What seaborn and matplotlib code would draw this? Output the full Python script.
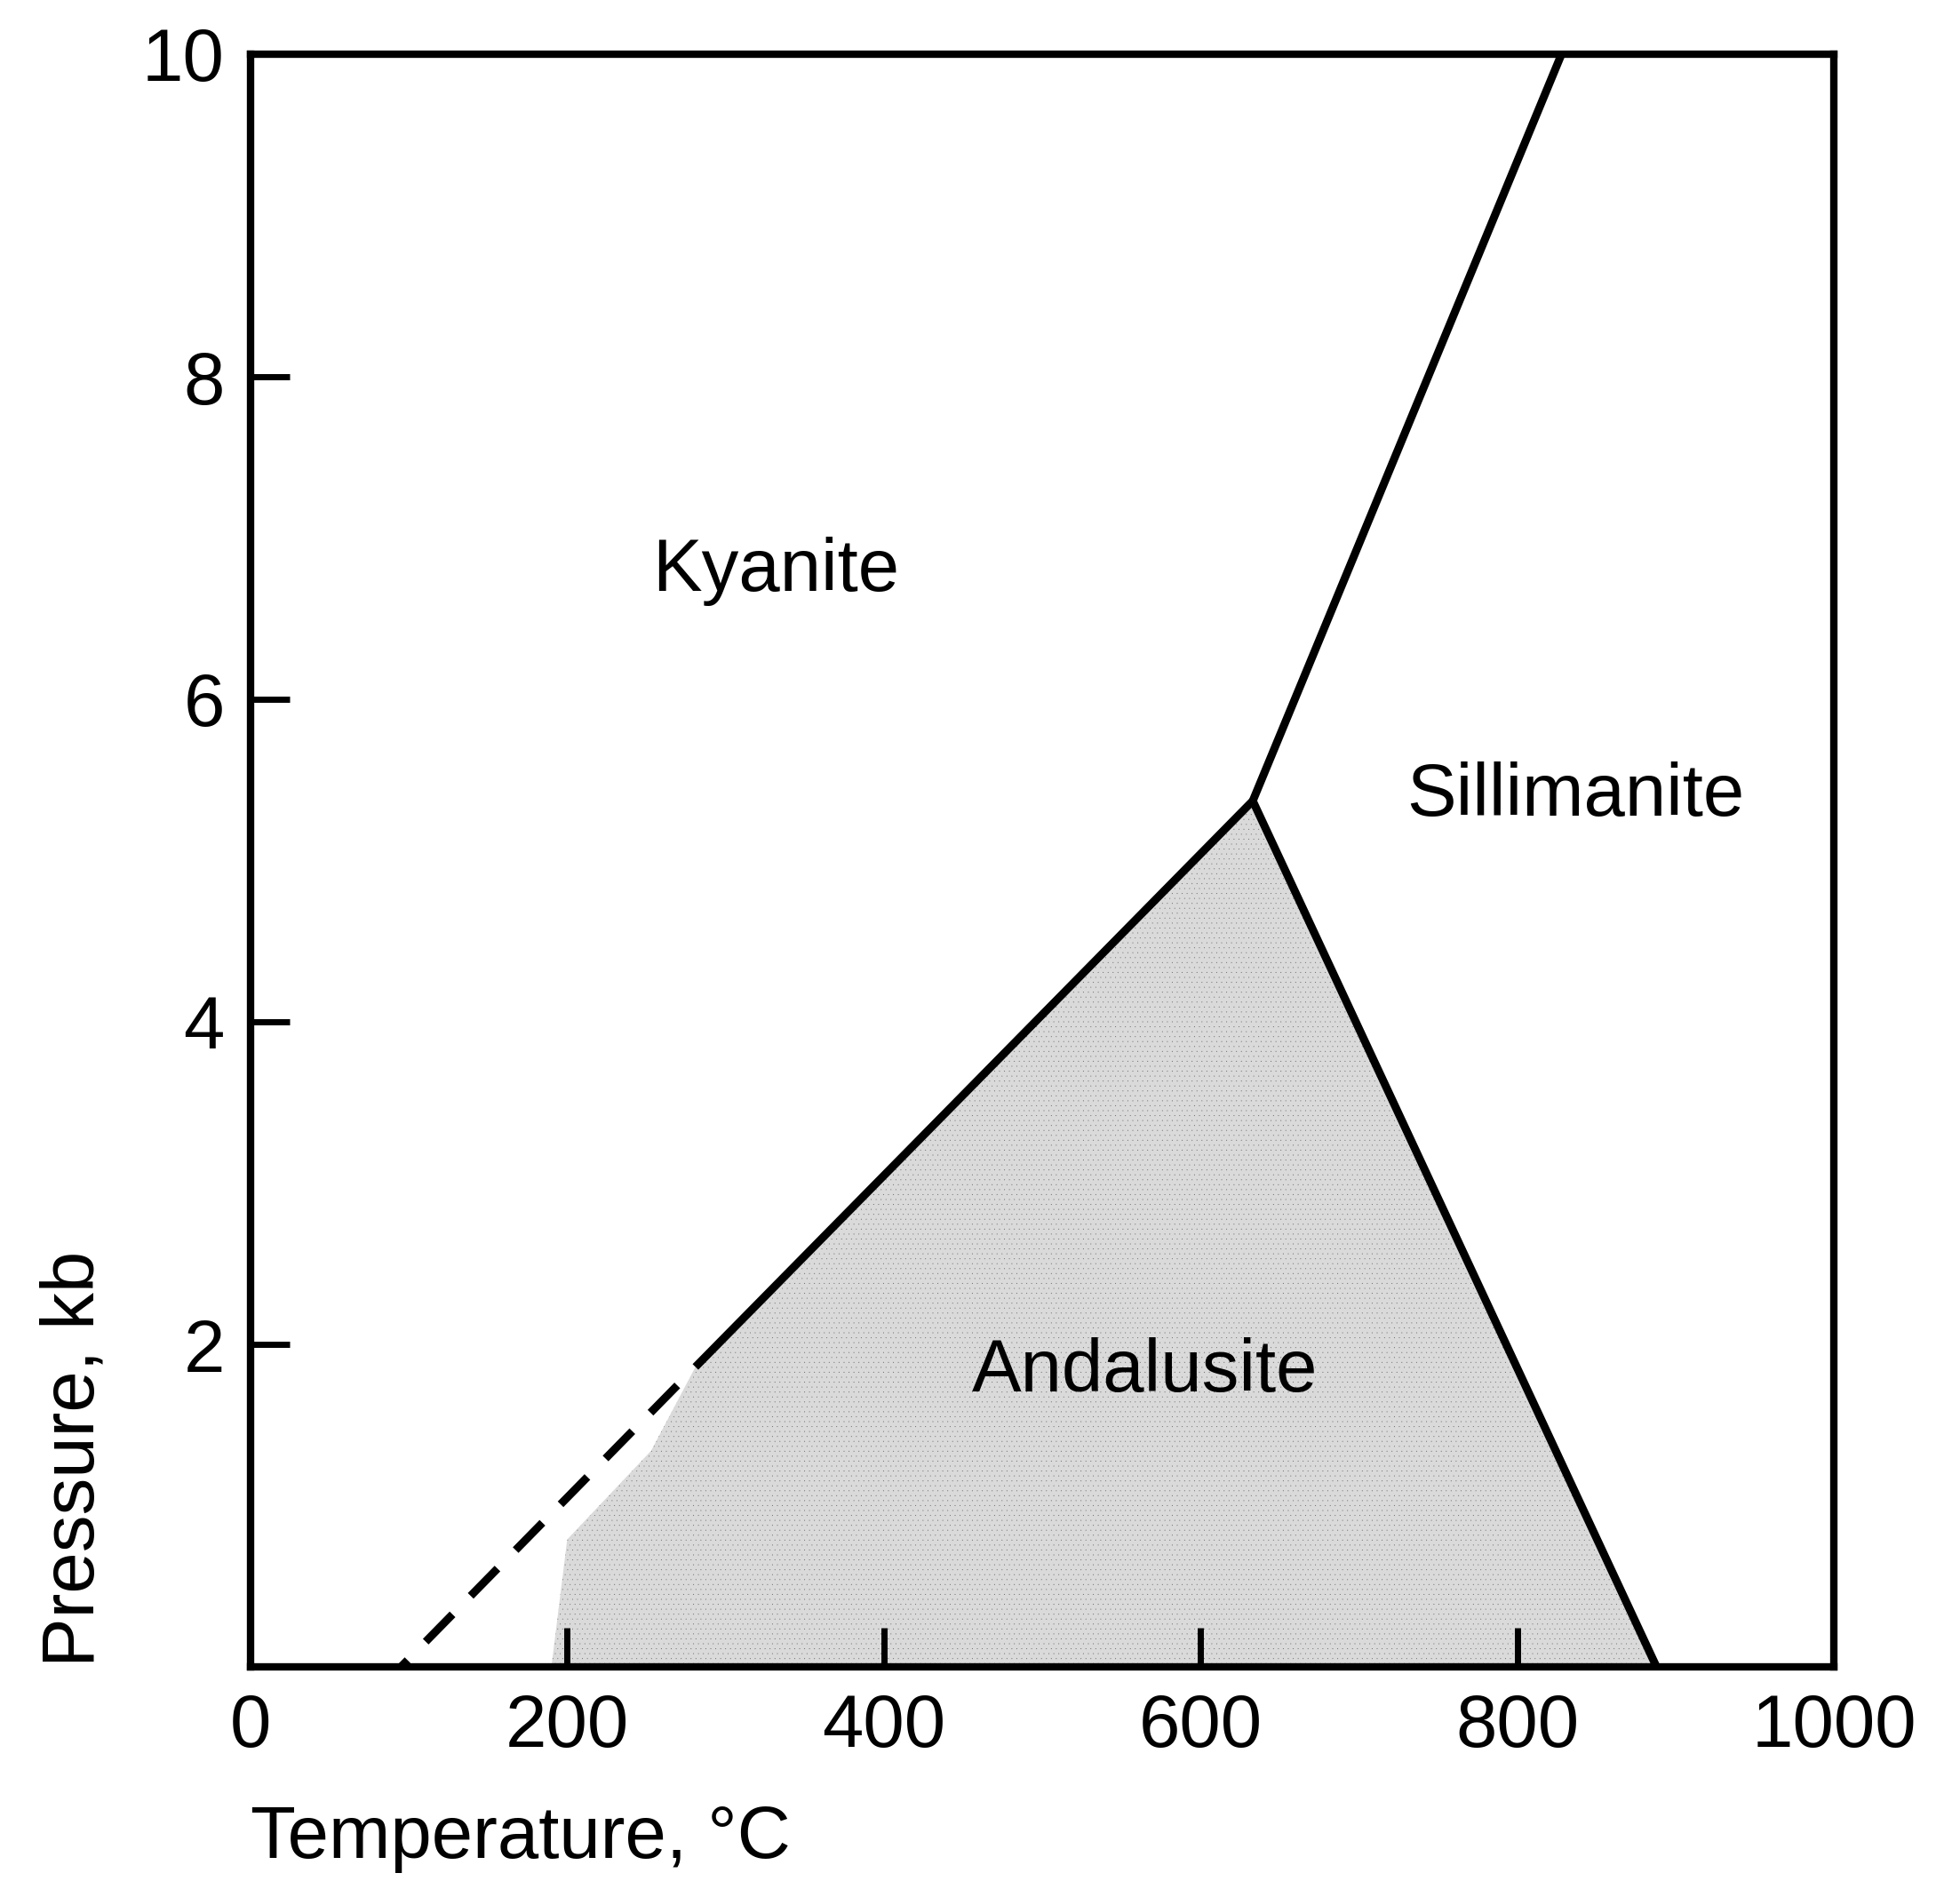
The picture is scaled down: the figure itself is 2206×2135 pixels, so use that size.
import matplotlib
matplotlib.use("Agg")
import matplotlib.pyplot as plt
import seaborn as sns

# ---- data ----
# Kyanite / Sillimanite boundary
ky_sil_temp = [633, 828]
ky_sil_press = [5.37, 10.0]
# Andalusite / Sillimanite boundary
and_sil_temp = [633, 888]
and_sil_press = [5.37, 0.0]
# Kyanite / Andalusite boundary (solid part, then dashed extrapolation)
ky_and_solid_temp = [633, 281]
ky_and_solid_press = [5.37, 1.86]
ky_and_dash_temp = [281, 95]
ky_and_dash_press = [1.86, 0.0]
# stippled Andalusite field outline
and_field_temp = [633, 281, 253, 200, 190, 888]
and_field_press = [5.37, 1.86, 1.34, 0.79, 0.0, 0.0]

# field labels
field_names = ["Kyanite", "Sillimanite", "Andalusite"]
field_temp = [332, 837, 565]
field_press = [6.67, 5.28, 1.71]

x_ticks = [0, 200, 400, 600, 800, 1000]
x_tick_labels = ["0", "200", "400", "600", "800", "1000"]
y_ticks = [2, 4, 6, 8, 10]
y_tick_labels = ["2", "4", "6", "8", "10"]

sns.set_theme(style="white")
plt.rcParams["font.family"] = ["Liberation Sans", "DejaVu Sans"]
plt.rcParams["hatch.linewidth"] = 0.0
plt.rcParams["lines.scale_dashes"] = False
plt.rcParams["axes.axisbelow"] = False

W, H, DPI = 2206, 2135, 100
fig = plt.figure(figsize=(W / DPI, H / DPI), dpi=DPI)
fig.patch.set_facecolor("white")
ax = fig.add_axes([282 / W, (H - 1876) / H, (2064 - 282) / W, (1876 - 61) / H])
ax.set_facecolor("white")
ax.set_axisbelow(False)

FS = 60
LW = 6.5

# stippled andalusite field
ax.fill(and_field_temp, and_field_press, facecolor="#dadada",
        edgecolor="#6a6a6a", hatch="...", linewidth=0, zorder=1)

sns.lineplot(x=ky_sil_temp, y=ky_sil_press, color="black", lw=LW,
             sort=False, ax=ax, zorder=3, solid_capstyle="butt")
sns.lineplot(x=and_sil_temp, y=and_sil_press, color="black", lw=LW,
             sort=False, ax=ax, zorder=3, solid_capstyle="butt")
sns.lineplot(x=ky_and_solid_temp, y=ky_and_solid_press, color="black", lw=LW,
             sort=False, ax=ax, zorder=3, solid_capstyle="butt")
sns.lineplot(x=ky_and_dash_temp, y=ky_and_dash_press, color="black", lw=LW,
             sort=False, ax=ax, zorder=3, linestyle=(31, (31, 21)),
             dash_capstyle="butt")

for name, t, p in zip(field_names, field_temp, field_press):
    ax.text(t, p, name, ha="center", va="baseline", fontsize=FS,
            color="black", zorder=4)

ax.set_xlim(0, 1000)
ax.set_ylim(0, 10)
ax.set_xticks(x_ticks)
ax.set_xticklabels(x_tick_labels)
ax.set_yticks(y_ticks)
ax.set_yticklabels(y_tick_labels)
ax.tick_params(axis="both", which="major", bottom=True, left=True,
               top=False, right=False, direction="in", length=32, width=5,
               color="black", labelsize=FS, labelcolor="black", pad=21)
ax.xaxis.set_zorder(5)
ax.yaxis.set_zorder(5)

for s in ax.spines.values():
    s.set_visible(True)
    s.set_color("black")
    s.set_linewidth(6)
    s.set_zorder(6)

ax.set_xlabel("Temperature, °C", loc="left", fontsize=FS, labelpad=34,
              color="black")
ax.set_ylabel("Pressure, kb", loc="bottom", fontsize=FS, labelpad=27,
              color="black")

fig.savefig("out.png", dpi=DPI, facecolor="white")
